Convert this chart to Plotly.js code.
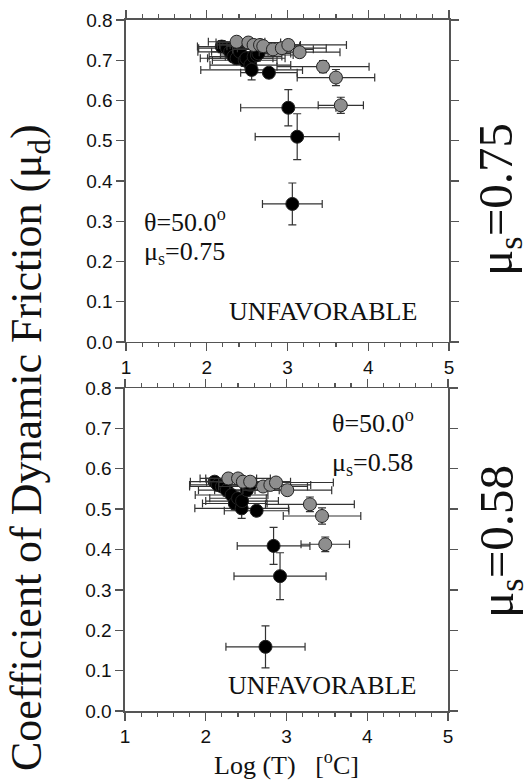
<!DOCTYPE html>
<html>
<head>
<meta charset="utf-8">
<script src="https://cdn.plot.ly/plotly-3.0.1.min.js"></script>
<style>html,body{margin:0;padding:0;background:#fff;}#chart{width:530px;height:781px;}</style>
</head>
<body>
<div id="chart"></div>
<script>
// ---- Panel 1: mu_s = 0.75 ----
const topBlackX  = [2.185, 2.25, 2.29, 2.33, 2.37, 2.41, 2.47, 2.49, 2.54, 2.556, 2.58, 2.62, 2.64, 2.77, 3.01, 3.12, 3.06];
const topBlackY  = [0.734, 0.730, 0.721, 0.709, 0.705, 0.721, 0.700, 0.705, 0.688, 0.676, 0.709, 0.713, 0.717, 0.669, 0.582, 0.510, 0.343];
const topBlackXe = [0.30, 0.35, 0.40, 0.30, 0.45, 0.35, 0.40, 0.48, 0.50, 0.63, 0.35, 0.45, 0.40, 0.35, 0.59, 0.52, 0.37];
const topBlackYe = [0.015, 0.012, 0.015, 0.012, 0.015, 0.012, 0.015, 0.012, 0.015, 0.025, 0.012, 0.015, 0.012, 0.012, 0.045, 0.057, 0.052];

const topGrayX  = [2.37, 2.515, 2.58, 2.66, 2.70, 2.82, 2.93, 3.01, 3.15, 3.44, 3.60, 3.66];
const topGrayY  = [0.746, 0.744, 0.738, 0.738, 0.735, 0.727, 0.730, 0.738, 0.720, 0.684, 0.657, 0.588];
const topGrayXe = [0.35, 0.40, 0.45, 0.50, 0.45, 0.50, 0.55, 0.72, 0.50, 0.57, 0.48, 0.28];
const topGrayYe = [0.010, 0.010, 0.012, 0.010, 0.012, 0.012, 0.010, 0.012, 0.012, 0.015, 0.020, 0.020];

// ---- Panel 2: mu_s = 0.58 ----
const botBlackX  = [2.11, 2.15, 2.20, 2.26, 2.32, 2.36, 2.40, 2.445, 2.45, 2.51, 2.55, 2.63, 2.84, 2.92, 2.74];
const botBlackY  = [0.568, 0.560, 0.556, 0.547, 0.535, 0.514, 0.527, 0.502, 0.520, 0.547, 0.560, 0.496, 0.409, 0.334, 0.159];
const botBlackXe = [0.30, 0.35, 0.40, 0.35, 0.45, 0.40, 0.35, 0.58, 0.45, 0.40, 0.35, 0.40, 0.45, 0.57, 0.49];
const botBlackYe = [0.012, 0.015, 0.012, 0.015, 0.012, 0.015, 0.012, 0.025, 0.012, 0.015, 0.012, 0.012, 0.046, 0.058, 0.052];

const botGrayX  = [2.28, 2.40, 2.46, 2.55, 2.71, 2.80, 2.87, 3.01, 3.29, 3.44, 3.48];
const botGrayY  = [0.576, 0.576, 0.568, 0.568, 0.556, 0.560, 0.566, 0.547, 0.512, 0.483, 0.413];
const botGrayXe = [0.35, 0.40, 0.45, 0.50, 0.55, 0.50, 0.71, 0.55, 0.55, 0.48, 0.30];
const botGrayYe = [0.010, 0.012, 0.010, 0.012, 0.012, 0.010, 0.012, 0.012, 0.018, 0.020, 0.018];

const xTicks = [1, 2, 3, 4, 5];
const yTicks = [0, 0.1, 0.2, 0.3, 0.4, 0.5, 0.6, 0.7, 0.8];
const yTickText = ['0.0', '0.1', '0.2', '0.3', '0.4', '0.5', '0.6', '0.7', '0.8'];

const ebColor = '#333';
function series(x, y, xe, ye, xa, ya, fill, size) {
  return {
    type: 'scatter', mode: 'markers', x: x, y: y, xaxis: xa, yaxis: ya,
    error_x: {type: 'data', array: xe, visible: true, color: ebColor, thickness: 1.2, width: 4},
    error_y: {type: 'data', array: ye, visible: true, color: ebColor, thickness: 1.2, width: 4},
    marker: {color: fill, size: size, line: {color: '#222', width: 1}},
    showlegend: false, hoverinfo: 'skip'
  };
}

const data = [
  series(topBlackX, topBlackY, topBlackXe, topBlackYe, 'x', 'y', '#000', 13),
  series(topGrayX, topGrayY, topGrayXe, topGrayYe, 'x', 'y', '#8e8e8e', 13),
  series(botBlackX, botBlackY, botBlackXe, botBlackYe, 'x2', 'y2', '#000', 13),
  series(botGrayX, botGrayY, botGrayXe, botGrayYe, 'x2', 'y2', '#8e8e8e', 13)
];

const sans = '"Liberation Sans", Arial, Helvetica, sans-serif';
const serif = '"Liberation Serif", "Times New Roman", Times, serif';
const axCol = '#555';

function xAxis(anchor, domain, title) {
  const a = {
    anchor: anchor, domain: domain, range: [1, 5], tickvals: xTicks, ticktext: xTicks.map(String),
    ticks: 'outside', ticklen: 8, tickwidth: 1.3, tickcolor: axCol,
    minor: {dtick: 0.2, ticks: 'outside', ticklen: 4, tickwidth: 1.2, tickcolor: axCol},
    showline: true, linecolor: axCol, linewidth: 1.5, mirror: 'allticks',
    showgrid: false, zeroline: false, tickfont: {family: sans, size: 19, color: '#111'}
  };
  if (title) a.title = {text: title, font: {family: serif, size: 26, color: '#111'}, standoff: 6};
  return a;
}
function yAxis(anchor, domain) {
  return {
    anchor: anchor, domain: domain, range: [0, 0.8], tickvals: yTicks, ticktext: yTickText,
    ticks: 'outside', ticklen: 8, tickwidth: 1.3, tickcolor: axCol,
    showline: true, linecolor: axCol, linewidth: 1.5, mirror: 'allticks',
    showgrid: false, zeroline: false, tickfont: {family: sans, size: 19, color: '#111'}
  };
}

const txt = {family: serif, size: 26, color: '#111'};
const layout = {
  width: 530, height: 781,
  margin: {l: 0, r: 0, t: 0, b: 0},
  paper_bgcolor: '#fff', plot_bgcolor: '#fff',
  font: {family: serif},
  xaxis: xAxis('y', [0.2377, 0.8472]),
  yaxis: yAxis('x', [0.5621, 0.9744]),
  xaxis2: xAxis('y2', [0.2358, 0.8453], 'Log (T)\u00a0\u00a0\u00a0[<sup>o</sup>C]'),
  yaxis2: yAxis('x2', [0.0896, 0.5032]),
  annotations: [
    {xref: 'x', yref: 'y', x: 1.2, y: 0.302, xanchor: 'left', yanchor: 'middle', showarrow: false, text: '\u03b8=50.0<sup>o</sup>', font: txt},
    {xref: 'x', yref: 'y', x: 1.2, y: 0.222, xanchor: 'left', yanchor: 'middle', showarrow: false, text: '\u03bc<sub>s</sub>=0.75', font: txt},
    {xref: 'x', yref: 'y', x: 3.44, y: 0.077, xanchor: 'center', yanchor: 'middle', showarrow: false, text: 'UNFAVORABLE', font: txt},
    {xref: 'x2', yref: 'y2', x: 3.54, y: 0.716, xanchor: 'left', yanchor: 'middle', showarrow: false, text: '\u03b8=50.0<sup>o</sup>', font: txt},
    {xref: 'x2', yref: 'y2', x: 3.54, y: 0.612, xanchor: 'left', yanchor: 'middle', showarrow: false, text: '\u03bc<sub>s</sub>=0.58', font: txt},
    {xref: 'x2', yref: 'y2', x: 3.44, y: 0.062, xanchor: 'center', yanchor: 'middle', showarrow: false, text: 'UNFAVORABLE', font: txt},
    {xref: 'paper', yref: 'paper', x: 29 / 530, y: 1 - 448 / 781, xanchor: 'center', yanchor: 'middle', showarrow: false, textangle: -90,
     text: 'Coefficient of Dynamic Friction (\u03bc<sub>d</sub>)', font: {family: serif, size: 44, color: '#111'}},
    {xref: 'paper', yref: 'paper', x: 499 / 530, y: 1 - 200 / 781, xanchor: 'center', yanchor: 'middle', showarrow: false, textangle: -90,
     text: '\u03bc<sub>s</sub>=0.75', font: {family: serif, size: 49, color: '#111'}},
    {xref: 'paper', yref: 'paper', x: 499 / 530, y: 1 - 542 / 781, xanchor: 'center', yanchor: 'middle', showarrow: false, textangle: -90,
     text: '\u03bc<sub>s</sub>=0.58', font: {family: serif, size: 49, color: '#111'}}
  ]
};

Plotly.newPlot('chart', data, layout, {staticPlot: true, displayModeBar: false});
</script>
</body>
</html>
